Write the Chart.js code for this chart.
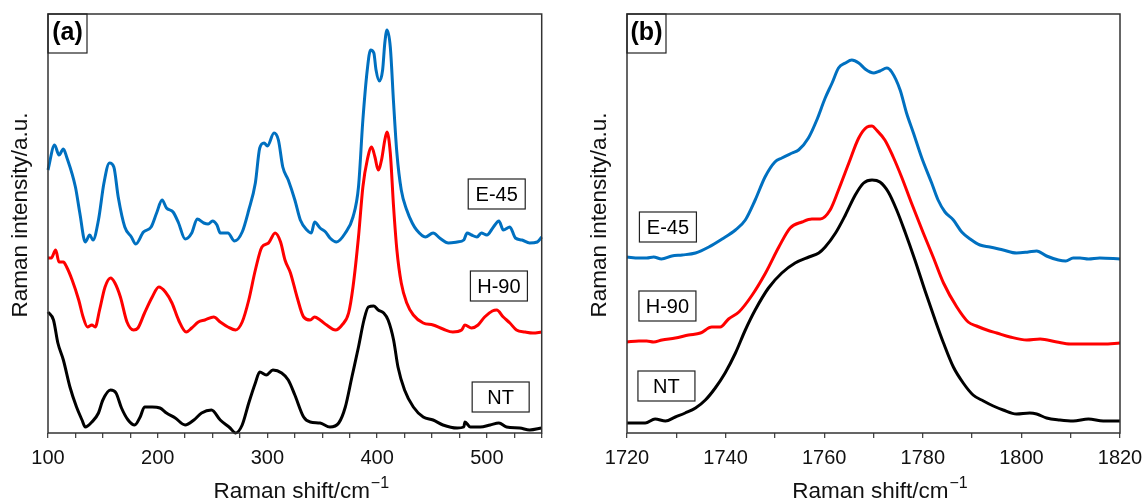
<!DOCTYPE html>
<html>
<head>
<meta charset="utf-8">
<script src="https://cdn.jsdelivr.net/npm/chart.js@4.4.1/dist/chart.umd.min.js"></script>
<style>
  body { margin: 0; background: #fff; }
  #wrap { position: relative; width: 1144px; height: 501px; }
  canvas { position: absolute; top: 0; }
  #chart-a { left: 0; }
  #chart-b { left: 560px; }
</style>
</head>
<body>
<div id="wrap">
  <canvas id="chart-a" width="560" height="501"></canvas>
  <canvas id="chart-b" width="584" height="501"></canvas>
</div>
<script>
// panel (a): low wavenumber region
const shiftA_E45 = [100,106,110,114,117,125,129,134,138,141,146,151,156,160,164,170,176,180,187,194,199,204,208,214,219,225,231,236,242,246,250,254,257,264,270,277,283,289,293,297,300,306,310,314,319,325,330,336,340,343,348,353,357,363,371,378,383,387,391,394,397,399,402,405,407,409,412,415,418,422,427,432,436,444,451,457,465,473,479,482,486,491,495,500,506,511,515,521,526,532,539,546,550];
const intA_E45 = [263,288,278,284,276,246,220,191,198,193,213,250,270,266,236,206,196,189,201,206,220,233,225,221,210,194,200,214,210,209,212,208,200,200,192,201,223,250,285,290,287,300,293,266,253,233,213,203,200,211,205,201,195,191,200,216,246,313,363,383,380,363,352,363,390,403,386,330,280,243,223,210,203,196,200,195,190,191,193,200,198,196,200,198,206,212,203,206,195,193,190,191,196];

const shiftA_H90 = [100,103,107,110,114,117,122,128,132,136,140,143,147,152,157,161,166,172,178,182,188,195,201,207,213,219,226,231,237,243,251,257,264,271,277,283,289,295,301,307,312,316,321,327,333,339,343,348,354,362,368,374,378,383,387,391,395,398,401,404,407,409,412,415,418,422,427,433,442,451,460,469,477,480,486,492,498,505,509,515,521,527,535,542,550];
const intA_H90 = [175,175,183,171,171,166,153,133,116,106,108,106,123,146,155,150,136,111,103,105,120,136,146,141,130,113,101,105,111,113,116,111,106,103,111,133,163,186,190,200,191,173,160,136,116,113,116,113,108,103,108,120,146,196,246,273,286,276,263,273,293,301,280,226,183,150,130,118,110,108,104,101,103,108,105,108,116,122,123,116,110,103,101,100,101];

const shiftA_NT = [100,105,109,114,120,126,131,134,140,146,150,157,162,167,173,179,184,188,195,202,208,216,225,233,240,249,257,266,271,277,283,289,293,299,305,313,319,325,333,339,348,357,365,371,377,383,388,392,397,401,406,410,415,419,425,433,442,451,460,473,479,480,485,494,503,511,518,530,539,550];
const intA_NT = [121,113,90,73,46,26,13,6,11,20,33,43,40,25,13,8,16,26,26,25,20,15,8,13,20,23,13,5,0,8,30,50,61,58,63,60,53,38,16,11,10,6,10,26,56,86,113,126,127,123,120,113,93,66,43,26,16,13,8,5,6,11,6,6,8,10,6,5,3,5];

// panel (b): C=O stretch region
const shiftB_E45 = [1720,1722.4,1724,1725.4,1727,1729.1,1731.2,1733.9,1736.6,1739.3,1742,1744,1746,1748,1750,1751.4,1753.5,1754.8,1756.8,1758.5,1760.2,1761.6,1762.9,1764.3,1765.6,1767,1768.3,1769.3,1770.1,1771.3,1772.7,1773.7,1775.4,1776.7,1778.1,1779.8,1781.8,1783.1,1784.5,1786.2,1787.9,1789.6,1791.6,1793.6,1796.3,1799,1801.4,1803.1,1805.1,1807.5,1809,1810.5,1811.9,1813.6,1815.9,1820];
const intB_E45 = [176,175,175,176,174,177,178,180,186,194,203,213,233,256,271,275,280,283,295,313,335,350,365,370,373,370,364,361,360,362,365,361,343,320,300,275,250,233,221,213,201,194,188,186,183,180,181,182,177,173,172,175,175,174,175,174];

const shiftB_H90 = [1720,1722.4,1724,1725.4,1727.1,1729.8,1732.5,1734.9,1737.2,1738.9,1740.6,1742.7,1745.4,1748.1,1750.8,1753.1,1755.5,1757.5,1759.2,1761.2,1762.9,1765,1767,1768.7,1769.7,1770.6,1772.3,1774,1775.7,1777.7,1780.1,1782.1,1784.2,1786.9,1789.2,1790.9,1793,1795,1797.7,1801.1,1803.8,1807.2,1809.9,1813.2,1816.6,1820];
const intB_H90 = [91,92,92,91,93,95,98,100,106,106,114,121,138,160,186,205,211,214,214,223,243,270,295,306,307,303,293,276,256,230,200,176,150,126,111,107,103,100,96,93,94,91,89,89,89,90];

const shiftB_NT = [1720,1722.4,1723.7,1725.7,1727.8,1729.8,1731.8,1733.9,1735.9,1737.9,1739.9,1742,1744,1746,1748.7,1751.4,1754.1,1756.9,1758.9,1760.2,1762.3,1764.3,1766.3,1768,1769.7,1771.3,1773,1774.7,1776.4,1778.4,1780.4,1782.5,1784.2,1786.2,1788.2,1790.2,1792.3,1794.3,1796.3,1799,1801.7,1803.1,1805.1,1807.8,1810.5,1813.6,1816.6,1820];
const intB_NT = [10,10,10,14,12,16,20,25,33,45,60,80,103,123,145,160,170,176,180,186,200,218,238,250,253,251,241,223,201,173,143,113,90,66,50,38,32,27,23,19,20,19,15,13,12,14,12,12];

const sampleNames = ["E-45", "H-90", "NT"];
const sampleColors = ["#0070c0", "#ff0000", "#000000"];

// label box anchors (x in cm-1, y in a.u.)
const tagPosA = [[509, 239], [511, 147], [512.6, 36]];
const tagPosB = [[1728.3, 206], [1728.2, 127], [1728, 47]];

const FONT = "'Liberation Sans', Arial, Helvetica, sans-serif";

function pts(xs, ys) {
    let out = [];
    for (let i = 0; i < xs.length; i++) {
        out.push({ x: xs[i], y: ys[i] });
    }
    return out;
}

function makeDatasets(sets) {
    return sets.map(function (s, i) {
        return {
            label: sampleNames[i],
            data: pts(s[0], s[1]),
            borderColor: sampleColors[i],
            borderWidth: 3,
            pointRadius: 0,
            tension: 0.3,
            cubicInterpolationMode: "monotone",
            fill: false,
            clip: 4,
        };
    });
}

// frame, panel tag, sample boxes, axis titles
const decor = {
    id: "decor",
    afterDraw(chart, args, opts) {
        const ctx = chart.ctx;
        const a = chart.chartArea;
        const sx = chart.scales.x;
        const sy = chart.scales.y;
        ctx.save();

        ctx.strokeStyle = "#333";
        ctx.lineWidth = 1.5;
        ctx.strokeRect(a.left, a.top, a.right - a.left, a.bottom - a.top);

        // panel tag
        ctx.lineWidth = 1.2;
        ctx.strokeStyle = "#222";
        ctx.strokeRect(a.left, a.top, 39, 39);
        ctx.fillStyle = "#000";
        ctx.font = "bold 25px " + FONT;
        ctx.textAlign = "center";
        ctx.textBaseline = "middle";
        ctx.fillText(opts.tag, a.left + 19.5, a.top + 19);

        // sample boxes
        ctx.font = "20px " + FONT;
        opts.tags.forEach(function (p, i) {
            const cx = sx.getPixelForValue(p[0]);
            const cy = sy.getPixelForValue(p[1]);
            ctx.fillStyle = "#fff";
            ctx.fillRect(cx - 28.5, cy - 15, 57, 30);
            ctx.strokeRect(cx - 28.5, cy - 15, 57, 30);
            ctx.fillStyle = "#000";
            ctx.fillText(sampleNames[i], cx, cy + 1);
        });

        // y title
        ctx.save();
        ctx.translate(a.left - 27, 215);
        ctx.rotate(-Math.PI / 2);
        ctx.font = "22.5px " + FONT;
        ctx.fillStyle = "#111";
        ctx.textBaseline = "middle";
        ctx.fillText("Raman intensity/a.u.", 0, 0);
        ctx.restore();

        // x title with superscript
        ctx.font = "22.5px " + FONT;
        const main = "Raman shift/cm";
        const wMain = ctx.measureText(main).width;
        ctx.font = "16px " + FONT;
        const sup = "\u22121";
        const wSup = ctx.measureText(sup).width;
        const x0 = (a.left + a.right) / 2 + 6 - (wMain + wSup) / 2;
        ctx.textAlign = "left";
        ctx.textBaseline = "alphabetic";
        ctx.fillStyle = "#111";
        ctx.font = "22.5px " + FONT;
        ctx.fillText(main, x0, 498);
        ctx.font = "16px " + FONT;
        ctx.fillText(sup, x0 + wMain + 1, 488);

        ctx.restore();
    },
};

function makeChart(id, sets, xmin, xmax, step, labelEvery, tag, tags, padLeft, padRight) {
    return new Chart(document.getElementById(id).getContext("2d"), {
        type: "line",
        data: { datasets: makeDatasets(sets) },
        plugins: [decor],
        options: {
            responsive: false,
            animation: false,
            layout: { padding: { left: padLeft, right: padRight, top: 14, bottom: 0 } },
            plugins: {
                legend: { display: false },
                tooltip: { enabled: false },
                decor: { tag: tag, tags: tags },
            },
            scales: {
                x: {
                    type: "linear",
                    min: xmin,
                    max: xmax,
                    border: { display: false },
                    grid: {
                        display: true,
                        drawOnChartArea: false,
                        drawTicks: true,
                        tickLength: 5,
                        color: "#444",
                        lineWidth: 1.3,
                    },
                    ticks: {
                        stepSize: step,
                        autoSkip: false,
                        maxRotation: 0,
                        padding: 8,
                        color: "#111",
                        font: { size: 20, family: FONT },
                        callback: function (v) {
                            return v % labelEvery === 0 ? String(v) : "";
                        },
                    },
                    afterFit: function (scale) {
                        scale.height = 68;
                        scale.paddingLeft = 0;
                        scale.paddingRight = 0;
                    },
                },
                y: {
                    display: false,
                    min: 0,
                    max: 419,
                },
            },
        },
    });
}

makeChart("chart-a",
    [[shiftA_E45, intA_E45], [shiftA_H90, intA_H90], [shiftA_NT, intA_NT]],
    100, 550, 25, 100, "(a)", tagPosA, 48, 18.3);

makeChart("chart-b",
    [[shiftB_E45, intB_E45], [shiftB_H90, intB_H90], [shiftB_NT, intB_NT]],
    1720, 1820, 10, 20, "(b)", tagPosB, 67, 24);
</script>
</body>
</html>
